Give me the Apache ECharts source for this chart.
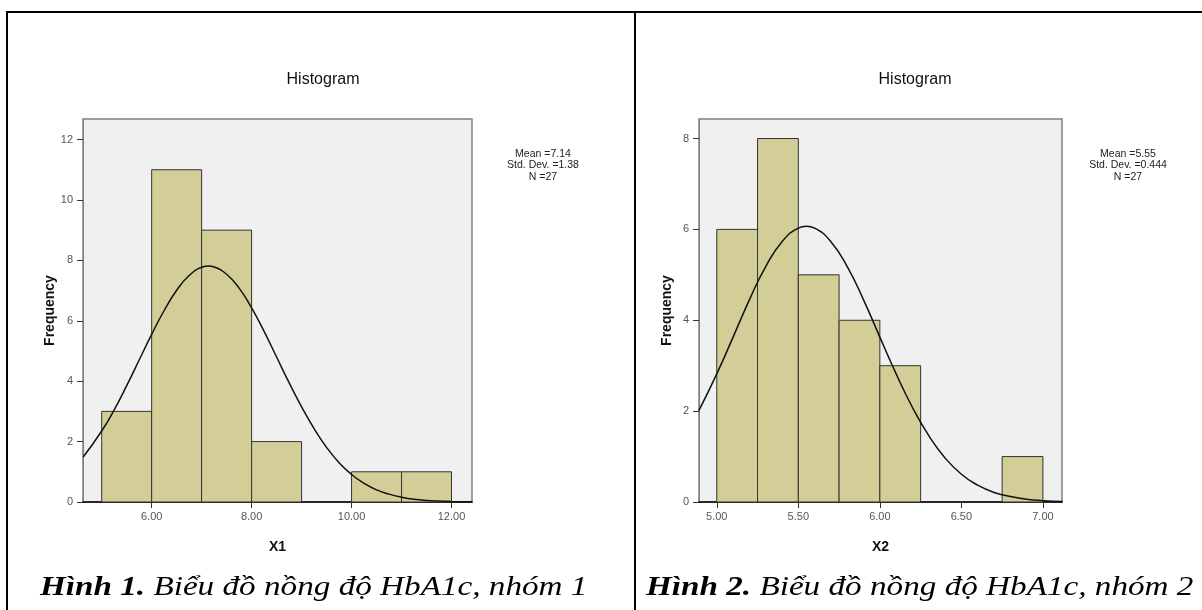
<!DOCTYPE html>
<html>
<head>
<meta charset="utf-8">
<script src="https://cdn.jsdelivr.net/npm/echarts@6/dist/echarts.min.js"></script>
<style>
html,body{margin:0;padding:0;background:#fff;}
#c{width:1202px;height:610px;}
</style>
</head>
<body>
<div id="c"></div>
<script>
// ---- Data ----
const binEdges1 = [5, 6, 7, 8, 9, 10, 11, 12];
const counts1 = [3, 11, 9, 2, 0, 1, 1];
const binEdges2 = [5.0, 5.25, 5.5, 5.75, 6.0, 6.25, 6.5, 6.75, 7.0];
const counts2 = [6, 8, 5, 4, 3, 0, 0, 1];

const curveX1 = [4.63,5.0,5.25,5.5,5.75,6.0,6.25,6.5,6.75,7.0,7.14,7.25,7.5,7.75,8.0,8.25,8.5,8.75,9.0,9.25,9.5,9.75,10.0,10.25,10.5,10.75,11.0,11.25,11.5,11.75,12.0,12.41];
const curveY1 = [1.49,2.35,3.05,3.85,4.70,5.55,6.34,7.01,7.50,7.77,7.81,7.78,7.54,7.08,6.43,5.65,4.80,3.95,3.15,2.43,1.81,1.30,0.91,0.62,0.40,0.26,0.16,0.09,0.05,0.03,0.02,0.01];
const curveX2 = [4.89,5.0,5.1,5.2,5.3,5.4,5.5,5.55,5.6,5.7,5.8,5.9,6.0,6.1,6.2,6.3,6.4,6.5,6.6,6.7,6.8,6.9,7.0,7.12];
const curveY2 = [2.01,2.82,3.63,4.45,5.18,5.73,6.03,6.07,6.03,5.73,5.18,4.45,3.63,2.82,2.08,1.46,0.97,0.61,0.37,0.21,0.12,0.06,0.03,0.01];

const xTicks1 = [6, 8, 10, 12];
const yTicks1 = [0, 2, 4, 6, 8, 10, 12];
const xTicks2 = [5.0, 5.5, 6.0, 6.5, 7.0];
const yTicks2 = [0, 2, 4, 6, 8];

const stats1 = ['Mean =7.14', 'Std. Dev. =1.38', 'N =27'];
const stats2 = ['Mean =5.55', 'Std. Dev. =0.444', 'N =27'];
const xNames = ['X1', 'X2'];
const captionNums = ['1', '2'];

// ---- Build ----
function binsData(edges, counts) {
  const d = [];
  for (let i = 0; i < counts.length; i++) {
    if (counts[i] > 0) d.push([edges[i], edges[i + 1], counts[i]]);
  }
  return d;
}
function pairs(xs, ys) { return xs.map((x, i) => [x, ys[i]]); }

const SANS = '"Liberation Sans", Arial, sans-serif';
const SERIF = '"Liberation Serif", "Times New Roman", serif';

function xAxisCfg(idx, min, max, ticks, name) {
  return {
    type: 'value', gridIndex: idx, min: min, max: max,
    name: name, nameLocation: 'middle', nameGap: 38,
    nameTextStyle: { fontFamily: SANS, fontWeight: 'bold', fontSize: 14, color: '#111' },
    axisLine: { show: true, onZero: false, lineStyle: { color: '#000', width: 1.5 } },
    axisTick: { show: true, length: 6, customValues: ticks, lineStyle: { color: '#333' } },
    axisLabel: { customValues: ticks, margin: 9, fontFamily: SANS, fontSize: 11, color: '#555',
      formatter: v => Number(v).toFixed(2) },
    splitLine: { show: false }
  };
}
function yAxisCfg(idx, max, ticks) {
  return {
    type: 'value', gridIndex: idx, min: 0, max: max,
    name: 'Frequency', nameLocation: 'middle', nameGap: 25,
    nameTextStyle: { fontFamily: SANS, fontWeight: 'bold', fontSize: 14, color: '#111' },
    axisLine: { show: true, lineStyle: { color: '#808080', width: 1 } },
    axisTick: { show: true, length: 6, customValues: ticks, lineStyle: { color: '#333' } },
    axisLabel: { customValues: ticks, margin: 10, fontFamily: SANS, fontSize: 11, color: '#555' },
    splitLine: { show: false }
  };
}
function renderBar(params, api) {
  const p0 = api.coord([api.value(0), api.value(2)]);
  const p1 = api.coord([api.value(1), 0]);
  return {
    type: 'rect',
    shape: { x: p0[0], y: p0[1], width: p1[0] - p0[0], height: p1[1] - p0[1] },
    style: { fill: '#d3ce97', stroke: '#333', lineWidth: 1 }
  };
}
function caption(x, num) {
  return { type: 'text', x: x, y: 602, scaleX: 1.185,
    style: { text: '{b|Hình ' + num + '.}{i| Biểu đồ nồng độ HbA1c, nhóm ' + num + '}',
      verticalAlign: 'bottom', fill: '#000',
      rich: { b: { fontFamily: SERIF, fontSize: 28, fontWeight: 'bold', fontStyle: 'italic', fill: '#000' },
              i: { fontFamily: SERIF, fontSize: 28, fontStyle: 'italic', fill: '#000' } } } };
}

const option = {
  animation: false,
  backgroundColor: '#fff',
  title: [
    { text: 'Histogram', left: 318, top: 67, textAlign: 'center',
      textStyle: { fontFamily: SANS, fontSize: 16, fontWeight: 'normal', color: '#111' } },
    { text: 'Histogram', left: 910, top: 67, textAlign: 'center',
      textStyle: { fontFamily: SANS, fontSize: 16, fontWeight: 'normal', color: '#111' } },
    { text: stats1.join('\n'), left: 538, top: 143, textAlign: 'center',
      textStyle: { fontFamily: SANS, fontSize: 10.5, lineHeight: 11.5, fontWeight: 'normal', color: '#222' } },
    { text: stats2.join('\n'), left: 1123, top: 143, textAlign: 'center',
      textStyle: { fontFamily: SANS, fontSize: 10.5, lineHeight: 11.5, fontWeight: 'normal', color: '#222' } }
  ],
  grid: [
    { left: 83, top: 119, width: 389, height: 383, show: true, backgroundColor: '#f0f0f0',
      borderColor: '#808080', borderWidth: 1.5 },
    { left: 699, top: 119, width: 363, height: 383, show: true, backgroundColor: '#f0f0f0',
      borderColor: '#808080', borderWidth: 1.5 }
  ],
  xAxis: [
    xAxisCfg(0, 4.626, 12.41, xTicks1, xNames[0]),
    xAxisCfg(1, 4.891, 7.117, xTicks2, xNames[1])
  ],
  yAxis: [
    yAxisCfg(0, 12.68, yTicks1),
    yAxisCfg(1, 8.43, yTicks2)
  ],
  series: [
    { type: 'custom', xAxisIndex: 0, yAxisIndex: 0, renderItem: renderBar,
      encode: { x: [0, 1], y: 2 }, data: binsData(binEdges1, counts1), z: 2 },
    { type: 'custom', xAxisIndex: 1, yAxisIndex: 1, renderItem: renderBar,
      encode: { x: [0, 1], y: 2 }, data: binsData(binEdges2, counts2), z: 2 },
    { type: 'line', xAxisIndex: 0, yAxisIndex: 0, data: pairs(curveX1, curveY1), smooth: true,
      showSymbol: false, symbol: 'none', lineStyle: { color: '#111', width: 1.5 }, z: 3 },
    { type: 'line', xAxisIndex: 1, yAxisIndex: 1, data: pairs(curveX2, curveY2), smooth: true,
      showSymbol: false, symbol: 'none', lineStyle: { color: '#111', width: 1.5 }, z: 3 }
  ],
  graphic: [
    { type: 'line', shape: { x1: 6, y1: 12, x2: 1202, y2: 12 }, style: { stroke: '#000', lineWidth: 2 } },
    { type: 'line', shape: { x1: 7, y1: 11, x2: 7, y2: 610 }, style: { stroke: '#000', lineWidth: 2 } },
    { type: 'line', shape: { x1: 635, y1: 11, x2: 635, y2: 610 }, style: { stroke: '#000', lineWidth: 2 } },
    caption(40, captionNums[0]),
    caption(646, captionNums[1])
  ]
};

const chart = echarts.init(document.getElementById('c'), null, { renderer: 'canvas' });
chart.setOption(option);
</script>
</body>
</html>
